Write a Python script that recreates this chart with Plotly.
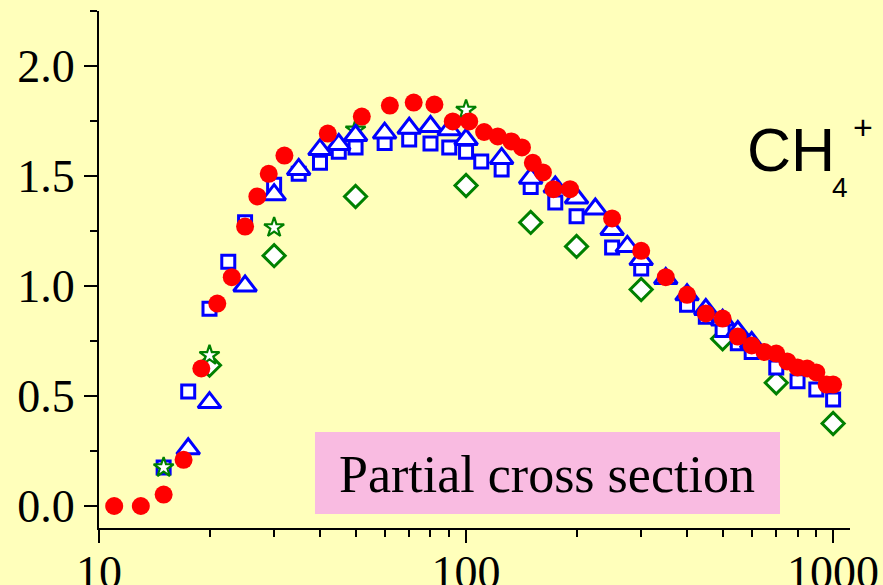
import plotly.graph_objects as go

# ---- data ----
red_x = [11, 13, 15, 17, 19, 21, 23, 25, 27, 29, 32, 42, 52, 62, 72, 82, 92, 102, 112, 122,
         133, 142, 152, 162, 173, 192, 250, 300, 350, 400, 450, 500, 550, 600, 650, 700,
         750, 800, 850, 900, 960, 1000]
red_y = [0.0, 0.0, 0.052, 0.21, 0.625, 0.92, 1.04, 1.27, 1.407, 1.51, 1.593, 1.693, 1.77,
         1.82, 1.834, 1.825, 1.748, 1.748, 1.70, 1.68, 1.657, 1.63, 1.56, 1.516, 1.44, 1.44,
         1.307, 1.16, 1.04, 0.96, 0.875, 0.852, 0.77, 0.73, 0.70, 0.693, 0.657, 0.63, 0.625,
         0.607, 0.552, 0.552]

sq_x = [15, 17.5, 20, 22.5, 25, 30, 35, 40, 45, 50, 60, 70, 80, 90, 100, 110, 125, 150, 175,
        200, 250, 300, 400, 450, 500, 550, 600, 700, 800, 900, 1000]
sq_y = [0.175, 0.52, 0.897, 1.11, 1.29, 1.46, 1.51, 1.56, 1.61, 1.63, 1.65, 1.666, 1.648,
        1.63, 1.61, 1.566, 1.53, 1.45, 1.38, 1.317, 1.175, 1.08, 0.915, 0.86, 0.80, 0.74,
        0.70, 0.63, 0.567, 0.53, 0.484]

tri_x = [17.5, 20, 25, 30, 35, 40, 45, 50, 60, 70, 80, 90, 100, 125, 150, 175, 200, 225,
         250, 275, 300, 350, 400, 450, 500, 550, 600]
tri_y = [0.26, 0.47, 1.0, 1.415, 1.53, 1.62, 1.643, 1.684, 1.695, 1.717, 1.725, 1.71, 1.666,
         1.58, 1.49, 1.45, 1.40, 1.35, 1.257, 1.18, 1.12, 1.034, 0.96, 0.893, 0.845, 0.793,
         0.743]

dia_x = [20, 30, 50, 100, 150, 200, 300, 500, 700, 1000]
dia_y = [0.64, 1.138, 1.407, 1.457, 1.289, 1.18, 0.984, 0.76, 0.56, 0.375]

star_x = [15, 20, 30, 50, 100]
star_y = [0.175, 0.685, 1.266, 1.71, 1.80]

y_ticks = [0.0, 0.5, 1.0, 1.5, 2.0]
y_ticklabels = ["0.0", "0.5", "1.0", "1.5", "2.0"]
x_ticks = [10, 100, 1000]
x_ticklabels = ["10", "100", "1000"]
x_minor = [20, 30, 40, 50, 60, 70, 80, 90, 200, 300, 400, 500, 600, 700, 800, 900]

BG = "#FFFFBB"
BLUE = "#0000FF"
GREEN = "#008000"
RED = "#FF0000"

fig = go.Figure()
fig.add_trace(go.Scatter(x=dia_x, y=dia_y, mode="markers",
                         marker=dict(symbol="diamond", size=17, color="white",
                                     line=dict(color=GREEN, width=3))))
fig.add_trace(go.Scatter(x=sq_x, y=sq_y, mode="markers",
                         marker=dict(symbol="square", size=13, color="white",
                                     line=dict(color=BLUE, width=3))))
fig.add_trace(go.Scatter(x=star_x, y=star_y, mode="markers",
                         marker=dict(symbol="star", size=15, color="white",
                                     line=dict(color=GREEN, width=2.2))))
fig.add_trace(go.Scatter(x=tri_x, y=tri_y, mode="markers",
                         marker=dict(symbol="triangle-up", size=20, color="white",
                                     line=dict(color=BLUE, width=3))))
fig.add_trace(go.Scatter(x=red_x, y=red_y, mode="markers",
                         marker=dict(symbol="circle", size=18, color=RED,
                                     line=dict(width=0))))

serif = "Liberation Serif, Times New Roman, serif"
sans = "Liberation Sans, Arial, sans-serif"

fig.update_xaxes(type="log", range=[1.0, 3.046], showline=True, linecolor="black",
                 linewidth=2, mirror=False, showgrid=False, zeroline=False,
                 tickmode="array", tickvals=x_ticks, ticktext=x_ticklabels,
                 ticks="outside", ticklen=13, tickwidth=2, tickcolor="black",
                 ticklabelstandoff=-10,
                 tickfont=dict(family=serif, size=46, color="black"),
                 minor=dict(tickmode="array", tickvals=x_minor, ticks="outside",
                            ticklen=7, tickwidth=2, tickcolor="black", showgrid=False))
fig.update_yaxes(range=[-0.1, 2.25], showline=True, linecolor="black", linewidth=2,
                 mirror=False, showgrid=False, zeroline=False,
                 tickmode="array", tickvals=y_ticks, ticktext=y_ticklabels,
                 ticks="outside", ticklen=13, tickwidth=2, tickcolor="black",
                 tickfont=dict(family=serif, size=46, color="black"),
                 minor=dict(dtick=0.25, tick0=0, ticks="outside", ticklen=7, tickwidth=2,
                            tickcolor="black", showgrid=False))

# pink label box
fig.add_shape(type="rect", xref="paper", yref="paper", x0=0.2876, x1=0.9068,
              y0=0.0271, y1=0.1857, fillcolor="#F9BBE1", line=dict(width=0), layer="below")
fig.add_annotation(xref="paper", yref="paper", x=0.5970, y=0.104, xanchor="center",
                   yanchor="middle", text="Partial cross section", showarrow=False,
                   font=dict(family=serif, size=52, color="black"))

# CH4+ label
fig.add_annotation(xref="paper", yref="paper", x=(745 - 99) / 751, y=(528 - 150) / 517,
                   xanchor="left", yanchor="middle", text="CH", showarrow=False,
                   font=dict(family=sans, size=61, color="black"))
fig.add_annotation(xref="paper", yref="paper", x=(830 - 99) / 751, y=(528 - 187) / 517,
                   xanchor="left", yanchor="middle", text="4", showarrow=False,
                   font=dict(family=sans, size=28, color="black"))
fig.add_annotation(xref="paper", yref="paper", x=(851 - 99) / 751, y=(528 - 127) / 517,
                   xanchor="left", yanchor="middle", text="+", showarrow=False,
                   font=dict(family=sans, size=34, color="black"))

fig.update_layout(width=883, height=585, showlegend=False,
                  paper_bgcolor=BG, plot_bgcolor=BG,
                  margin=dict(l=99, r=33, t=11, b=57, autoexpand=False))

fig.write_html("out.html")
